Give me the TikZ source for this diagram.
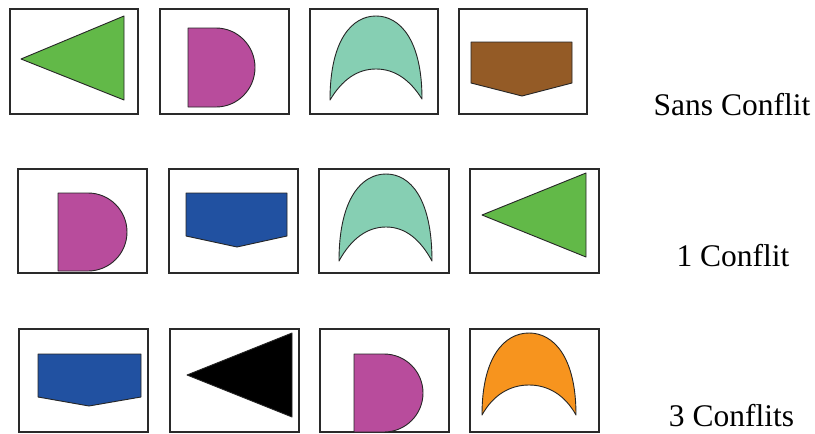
\documentclass[tikz,border=0pt]{standalone}
\usepackage{fontspec}
\setmainfont{Liberation Serif}
\definecolor{cgreen}{HTML}{62B948}
\definecolor{cmag}{HTML}{B84C9C}
\definecolor{cmint}{HTML}{86CFB3}
\definecolor{cbrown}{HTML}{945B26}
\definecolor{cblue}{HTML}{2151A1}
\definecolor{corange}{HTML}{F7941E}
\definecolor{cline}{HTML}{2A2A2A}
\begin{document}
\begin{tikzpicture}[x=1pt,y=-1pt,
  frame/.style={draw=cline,line width=1.3pt,fill=white},
  shp/.style={draw=black!85,line width=0.9pt,line join=round},
  lbl/.style={anchor=base,font=\fontsize{31.5}{36}\selectfont,inner sep=0pt,text depth=0pt}]
\useasboundingbox[fill=white] (0,0) rectangle (815,434);
% ---- boxes
\newcommand\fbx[5]{\draw[frame] (#2,#3) rectangle (#4,#5) node[coordinate] (#1) {};}
\fbx{b11}{10}{9}{138}{114}
\fbx{b12}{160}{9}{289}{114}
\fbx{b13}{310}{9}{438}{114}
\fbx{b14}{459}{9}{587}{114}
\fbx{b21}{18}{169}{147}{273}
\fbx{b22}{169}{169}{298}{273}
\fbx{b23}{319}{169}{449}{273}
\fbx{b24}{470}{169}{599}{273}
\fbx{b31}{19}{329}{148}{432}
\fbx{b32}{170}{329}{299}{432}
\fbx{b33}{320}{329}{449}{432}
\fbx{b34}{470}{329}{599}{432}
% ---- row 1
\draw[shp,fill=cgreen] (21,59) -- (124,16) -- (124,100) -- cycle;
\draw[shp,fill=cmag] (188,28) -- (216,28) arc[start angle=-90,end angle=90,x radius=39,y radius=39.5] -- (188,107) -- cycle;
\draw[shp,fill=cmint] (330,100) .. controls (330,40) and (352,16) .. (376,16)
  .. controls (400,16) and (422,40) .. (422,99)
  .. controls (410,80) and (395,69) .. (376,69)
  .. controls (357,69) and (342,80) .. (330,100) -- cycle;
\draw[shp,fill=cbrown] (471,42) -- (572,42) -- (572,83) -- (522,96) -- (471,83) -- cycle;
% ---- row 2
\draw[shp,fill=cmag] (58,193) -- (88,193) arc[start angle=-90,end angle=90,x radius=39,y radius=39] -- (58,271) -- cycle;
\draw[shp,fill=cblue] (186,193) -- (287,193) -- (287,236) -- (237,247) -- (186,236) -- cycle;
\draw[shp,fill=cmint] (339,261) .. controls (339,198) and (362,174) .. (386,174)
  .. controls (410,174) and (432,198) .. (432,261)
  .. controls (420,239) and (405,227) .. (386,227)
  .. controls (367,227) and (351,239) .. (339,261) -- cycle;
\draw[shp,fill=cgreen] (482,215) -- (586,173) -- (586,257) -- cycle;
% ---- row 3
\draw[shp,fill=cblue] (38,354) -- (141,354) -- (141,397) -- (89,406) -- (38,397) -- cycle;
\draw[shp,fill=black] (187,375) -- (292,333) -- (292,417) -- cycle;
\draw[shp,fill=cmag] (354,354) -- (384,354) arc[start angle=-90,end angle=90,x radius=39,y radius=39] -- (354,432) -- cycle;
\draw[shp,fill=corange] (482,415) .. controls (482,356) and (505,333) .. (529,333)
  .. controls (553,333) and (576,356) .. (576,415)
  .. controls (565,395) and (548,385) .. (529,385)
  .. controls (510,385) and (493,395) .. (482,415) -- cycle;
% ---- labels
\node[lbl] (t1) at (732,115) {Sans Conflit};
\node[lbl] (t2) at (733,266) {1 Conflit};
\node[lbl] (t3) at (731.5,426) {3 Conflits};
\end{tikzpicture}
\end{document}
